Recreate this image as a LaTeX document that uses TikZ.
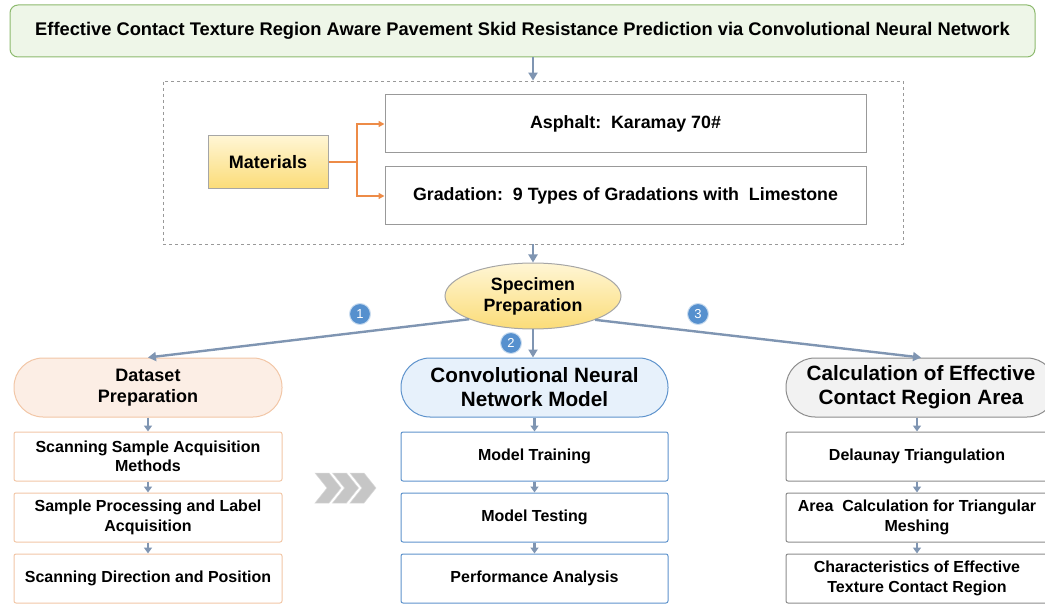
\documentclass[tikz,border=0pt]{standalone}
\usepackage{fontspec}
\setmainfont{Liberation Sans}
\usetikzlibrary{arrows.meta,shapes.geometric,shadows}
\definecolor{arr}{HTML}{7F95B2}
\definecolor{tgreenF}{HTML}{EEF6E8}
\definecolor{tgreenD}{HTML}{8DBA6E}
\definecolor{peachF}{HTML}{FCEEE5}
\definecolor{peachD}{HTML}{F2C6A6}
\definecolor{blueF}{HTML}{E7F1FB}
\definecolor{blueD}{HTML}{5E93CC}
\definecolor{grayF}{HTML}{F2F2F2}
\definecolor{grayD}{HTML}{8C8C8C}
\definecolor{orangeL}{HTML}{ED8B47}
\definecolor{yelTop}{HTML}{FFF6D5}
\definecolor{yelBot}{HTML}{FBDC78}
\definecolor{circF}{HTML}{5690CE}
\tikzset{
  every node/.style={font=\bfseries, align=center, inner sep=0pt},
  flow/.style={draw=arr, line width=2.4pt, -{Triangle[length=8pt,width=9pt]}},
  sflow/.style={draw=arr, line width=2.2pt, -{Triangle[length=6pt,width=8pt]}},
  obox/.style={draw=gray!80, line width=1pt, fill=white, minimum height=58pt},
  pill/.style={rounded corners=29pt, line width=1pt, minimum height=59pt},
  sbox/.style={fill=white, line width=1pt, minimum width=268pt, minimum height=49pt, rounded corners=2pt},
  numc/.style={circle, fill=circF, draw=white!70!circF, line width=1pt, minimum size=21pt, text=white, font=\fontsize{13}{13}\selectfont},
  orng/.style={draw=orangeL, line width=1.8pt},
}
\begin{document}
\begin{tikzpicture}[x=1pt,y=-1pt]
\useasboundingbox (0,0) rectangle (1045,604);
% title
\node[draw=tgreenD, fill=tgreenF, line width=1pt, rounded corners=8pt, minimum width=1025pt, minimum height=52pt, font=\bfseries\fontsize{18.3}{20}\selectfont] (title) at (522.5,31) {Effective\ Contact\ Texture\ Region\ Aware\ Pavement\ Skid\ Resistance\ Prediction\ via\ Convolutional\ Neural\ Network};
% dashed box
\node[draw=gray!80, dashed, line width=0.8pt, minimum width=740pt, minimum height=163pt] (mat) at (533,162.5) {};
\draw[flow] (title.south -| mat.north) -- (mat.north);
% materials
\node[draw=gray!70, line width=1pt, top color=yelTop, bottom color=yelBot, minimum width=120pt, minimum height=53pt, font=\bfseries\fontsize{18}{20}\selectfont] (materials) at (268,162) {Materials};
\node[obox, minimum width=481pt, font=\bfseries\fontsize{17.8}{20}\selectfont] (asph) at (625.5,124) {Asphalt:\ \ Karamay 70\#};
\node[obox, minimum width=481pt, font=\bfseries\fontsize{17.8}{20}\selectfont] (grad) at (625.5,196) {Gradation:\ \ 9 Types of Gradations with\ \ Limestone};
\coordinate (split) at (357,162);
\draw[orng] (materials.east) -- (split);
\draw[orng, -{Triangle[length=6pt,width=6pt]}] (split) |- (asph.west);
\draw[orng, -{Triangle[length=6pt,width=6pt]}] (split) |- (grad.west);
% ellipse
\node[ellipse, draw=gray!70, line width=1pt, top color=yelTop, bottom color=yelBot, minimum width=176pt, minimum height=66pt, font=\bfseries\fontsize{17.8}{21}\selectfont] (spec) at (533,296) {Specimen\\Preparation};
\draw[flow] (mat.south) -- (spec.north);
% three pills
\node[pill, draw=peachD, fill=peachF, minimum width=268pt, font=\bfseries\fontsize{18}{21}\selectfont] (ds) at (148,387.5) {Dataset\\Preparation};
\node[pill, draw=blueD, fill=blueF, minimum width=267pt, font=\bfseries\fontsize{20.7}{24}\selectfont] (cnn) at (534.5,387.5) {Convolutional Neural\\Network Model};
\node[pill, draw=grayD, fill=grayF, minimum width=270pt, font=\bfseries\fontsize{20.7}{24}\selectfont] (calc) at (921,387.5) {Calculation of Effective\\Contact Region Area};
\draw[flow] (spec.200) -- (ds.north);
\draw[flow] (spec.south) -- (spec.south |- cnn.north);
\draw[flow] (spec.-21) -- (calc.north);
\node[numc] (n1) at (360,314) {1};
\node[numc] (n2) at (511,343) {2};
\node[numc] (n3) at (698,314) {3};
% columns
\begin{scope}[every node/.append style={font=\bfseries\fontsize{16}{19.5}\selectfont}]
\node[sbox, draw=peachD] (l1) at (148,456.5) {Scanning Sample Acquisition\\Methods};
\node[sbox, draw=peachD] (l2) at (148,517.5) {Sample Processing and Label\\Acquisition};
\node[sbox, draw=peachD] (l3) at (148,578.5) {Scanning Direction and Position};
\node[sbox, draw=blueD, minimum width=267pt] (m1) at (534.5,456.5) {Model Training};
\node[sbox, draw=blueD, minimum width=267pt] (m2) at (534.5,517.5) {Model Testing};
\node[sbox, draw=blueD, minimum width=267pt] (m3) at (534.5,578.5) {Performance Analysis};
\node[sbox, draw=grayD, minimum width=262pt] (r1) at (917,456.5) {Delaunay Triangulation};
\node[sbox, draw=grayD, minimum width=262pt] (r2) at (917,517.5) {Area\ \ Calculation for Triangular\\Meshing};
\node[sbox, draw=grayD, minimum width=262pt] (r3) at (917,578.5) {Characteristics of Effective\\Texture Contact Region};
\end{scope}
\foreach \a/\b in {ds/l1,l1/l2,l2/l3,cnn/m1,m1/m2,m2/m3,calc/r1,r1/r2,r2/r3}{
  \draw[sflow] (\a.south -| \b.north) -- (\b.north);
}
% chevrons
\foreach \i in {0,1,2}{
  \fill[gray!45, draw=gray!30, line width=0.5pt, shift={(315+17.5*\i,473)}]
    (0,0) -- (14,0) -- (26,15) -- (14,30) -- (0,30) -- (12,15) -- cycle;
}
\end{tikzpicture}
\end{document}
